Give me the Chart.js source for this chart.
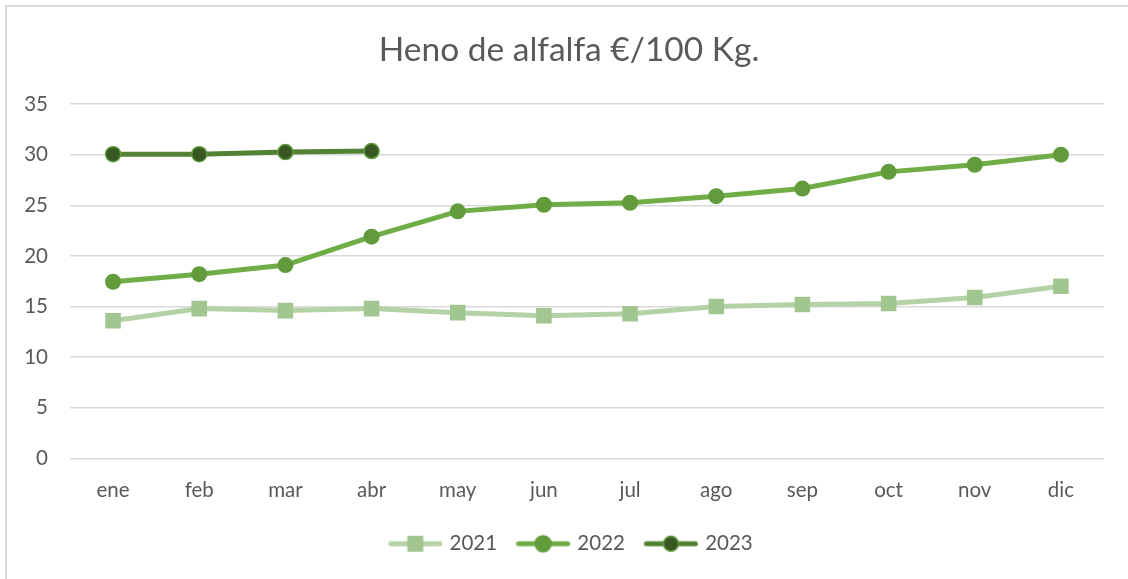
<!DOCTYPE html>
<html>
<head>
<meta charset="utf-8">
<script src="https://cdn.jsdelivr.net/npm/chart.js@4/dist/chart.umd.min.js"></script>
<style>
  html, body { margin: 0; padding: 0; background: #fff; overflow: hidden; width: 1128px; height: 579px; }
  #frame { position: absolute; left: 5px; top: 5px; width: 1300px; height: 800px; border: 2px solid #d9d9d9; box-sizing: border-box; }
  #c { position: absolute; left: 0; top: 0; }
</style>
</head>
<body>
<div id="frame"></div>
<canvas id="c" width="1128" height="579"></canvas>
<script>
const months = ['ene','feb','mar','abr','may','jun','jul','ago','sep','oct','nov','dic'];
const seriesNames = ['2021','2022','2023'];
const values2021 = [13.6, 14.8, 14.6, 14.8, 14.4, 14.1, 14.3, 15.0, 15.2, 15.3, 15.9, 17.0];
const values2022 = [17.45, 18.2, 19.1, 21.9, 24.4, 25.05, 25.25, 25.9, 26.65, 28.3, 29.0, 30.0];
const values2023 = [30.05, 30.05, 30.25, 30.35, null, null, null, null, null, null, null, null];
const yTicks = [0, 5, 10, 15, 20, 25, 30, 35];

const FONT = 'Lato, "Open Sans", sans-serif';
const TXT = '#595959';

const styles = [
  { line: '#b4d2a6', marker: '#a2c690', border: '#a2c690', shape: 'rect', r: 11 },
  { line: '#70ad47', marker: '#629b3c', border: '#629b3c', shape: 'circle', r: 8 },
  { line: '#548235', marker: '#385723', border: '#5e9a3a', shape: 'circle', r: 7.5 }
];

function legendIcon(s) {
  const W = 69, H = 22, lineLen = 56;
  const cv = document.createElement('canvas');
  cv.width = W; cv.height = H;
  const ctx = cv.getContext('2d');
  const x0 = W - lineLen, x1 = W - 1, cy = H / 2;
  ctx.strokeStyle = s.line; ctx.lineWidth = 5; ctx.lineCap = 'round';
  ctx.beginPath(); ctx.moveTo(x0 + 3, cy); ctx.lineTo(x1 - 3, cy); ctx.stroke();
  const cx = (x0 + x1) / 2;
  ctx.fillStyle = s.marker;
  if (s.shape === 'rect') {
    ctx.fillRect(cx - 8, cy - 8, 16, 16);
  } else {
    ctx.beginPath(); ctx.arc(cx, cy, s.r, 0, Math.PI * 2); ctx.fill();
    ctx.strokeStyle = s.border; ctx.lineWidth = 1.5; ctx.stroke();
  }
  return cv;
}
const icons = styles.map(legendIcon);

const dataSets = [values2021, values2022, values2023].map((vals, i) => ({
  label: seriesNames[i],
  data: vals,
  borderColor: styles[i].line,
  backgroundColor: styles[i].marker,
  borderWidth: 5,
  pointStyle: styles[i].shape,
  pointRadius: styles[i].r,
  pointBackgroundColor: styles[i].marker,
  pointBorderColor: styles[i].border,
  pointBorderWidth: i === 2 ? 1.5 : 0,
  tension: 0,
  spanGaps: false,
  order: 3 - i
}));

// Shift the centred title and legend to match the reference frame centre
const shiftPlugin = {
  id: 'shiftBoxes',
  afterLayout(chart) {
    if (chart.titleBlock) { chart.titleBlock.left += 17; chart.titleBlock.right += 17; }
    if (chart.legend) { chart.legend.left += 14; chart.legend.right += 14; }
  }
};

new Chart(document.getElementById('c'), {
  type: 'line',
  data: { labels: months, datasets: dataSets },
  plugins: [shiftPlugin],
  options: {
    responsive: false,
    devicePixelRatio: 1,
    animation: false,
    events: [],
    layout: { padding: { left: 0, right: 24, top: 0, bottom: 15 } },
    plugins: {
      tooltip: { enabled: false },
      title: {
        display: true,
        text: 'Heno de alfalfa €/100 Kg.',
        color: TXT,
        font: { family: FONT, size: 33.5, weight: 'normal', lineHeight: 1.2 },
        padding: { top: 30, bottom: 33.8 }
      },
      legend: {
        display: true,
        position: 'bottom',
        labels: {
          color: TXT,
          font: { family: FONT, size: 20.5 },
          usePointStyle: true,
          pointStyleWidth: 60,
          padding: 10,
          generateLabels: (chart) => chart.data.datasets.map((d, i) => ({
            text: d.label,
            pointStyle: icons[i],
            fillStyle: 'transparent',
            strokeStyle: 'transparent',
            lineWidth: 0,
            fontColor: TXT,
            datasetIndex: i,
            hidden: false
          }))
        }
      }
    },
    scales: {
      x: {
        offset: true,
        grid: { display: false, drawTicks: false },
        border: { display: false },
        ticks: { color: TXT, font: { family: FONT, size: 20.5 }, padding: 20, maxRotation: 0, autoSkip: false },
        afterFit: (s) => { s.height = 65; }
      },
      y: {
        min: 0, max: 35,
        afterBuildTicks: (s) => { s.ticks = yTicks.map(v => ({ value: v })); },
        grid: { color: '#d9d9d9', lineWidth: 1.5, drawTicks: false },
        border: { display: false },
        ticks: { color: TXT, font: { family: FONT, size: 20.5 }, padding: 22 },
        afterFit: (s) => { s.width = 70; }
      }
    }
  }
});
</script>
</body>
</html>
